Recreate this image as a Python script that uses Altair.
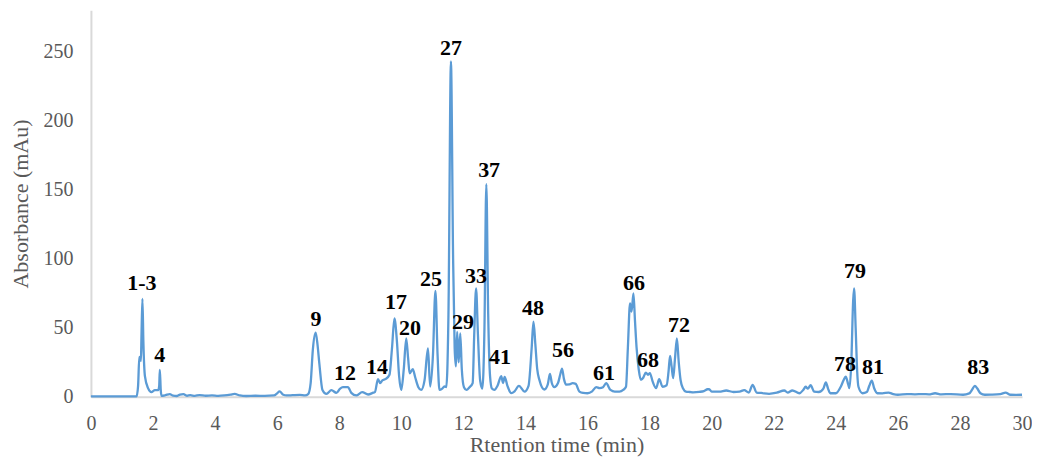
import altair as alt
import pandas as pd

# Chromatogram trace (retention time in min, absorbance in mAu)
time_min = [
    0.0, 0.5, 1.0, 1.47, 1.52, 1.56, 1.61, 1.63, 1.66, 1.69, 1.74, 1.84, 1.95, 2.06, 2.17, 2.2, 2.22, 2.25, 2.27,
    2.4, 2.54, 2.65, 2.76, 2.87, 2.98, 3.1, 3.2, 3.35, 3.5, 3.7, 3.9, 4.1, 4.3, 4.5, 4.63, 4.8, 5.0, 5.3, 5.6,
    5.9, 6.0, 6.08, 6.2, 6.3, 6.5, 6.73, 6.9, 7.0, 7.08, 7.15, 7.24, 7.3, 7.36, 7.46, 7.59, 7.75, 7.91, 8.03,
    8.12, 8.28, 8.39, 8.55, 8.74, 8.93, 9.1, 9.15, 9.25, 9.32, 9.39, 9.5, 9.62, 9.7, 9.78, 9.86, 9.93, 10.0,
    10.08, 10.16, 10.22, 10.27, 10.37, 10.45, 10.55, 10.64, 10.75, 10.86, 10.93, 11.02, 11.1, 11.17, 11.23,
    11.32, 11.39, 11.45, 11.52, 11.6, 11.67, 11.72, 11.76, 11.8, 11.85, 11.9, 11.95, 12.02, 12.1, 12.2, 12.3,
    12.35, 12.41, 12.47, 12.54, 12.61, 12.68, 12.74, 12.8, 12.86, 12.92, 13.0, 13.1, 13.22, 13.28, 13.33,
    13.42, 13.54, 13.65, 13.79, 13.97, 14.1, 14.2, 14.26, 14.32, 14.38, 14.45, 14.61, 14.72, 14.79, 14.85,
    14.93, 15.05, 15.12, 15.18, 15.24, 15.31, 15.42, 15.52, 15.62, 15.74, 15.86, 16.0, 16.15, 16.28, 16.39,
    16.5, 16.6, 16.74, 16.88, 17.03, 17.15, 17.24, 17.3, 17.37, 17.42, 17.48, 17.53, 17.58, 17.65, 17.72,
    17.8, 17.88, 17.95, 18.01, 18.1, 18.21, 18.31, 18.42, 18.55, 18.61, 18.66, 18.71, 18.76, 18.82, 18.88,
    18.94, 19.0, 19.08, 19.17, 19.3, 19.4, 19.6, 19.75, 19.87, 19.92, 20.0, 20.25, 20.47, 20.7, 20.9, 21.05,
    21.2, 21.32, 21.45, 21.6, 21.85, 22.1, 22.34, 22.45, 22.6, 22.83, 22.95, 23.03, 23.1, 23.19, 23.3, 23.45,
    23.6, 23.68, 23.75, 23.82, 24.0, 24.16, 24.25, 24.32, 24.4, 24.44, 24.5, 24.56, 24.59, 24.64, 24.69,
    24.73, 24.86, 25.0, 25.08, 25.16, 25.24, 25.34, 25.5, 25.7, 25.85, 26.0, 26.3, 26.55, 26.8, 27.0, 27.2,
    27.4, 27.7, 28.1, 28.3, 28.4, 28.48, 28.56, 28.66, 28.8, 29.0, 29.3, 29.47, 29.63, 29.8, 30.0,
]
absorbance = [
    0.3, 0.3, 0.3, 0.3, 8, 29, 26, 45, 71, 40, 15, 6.3, 3.4, 4.8, 4.8, 8, 19.5, 5, 0.8,
    1.2, 2.0, 0.8, 0.6, 1.6, 1.9, 0.8, 1.2, 0.7, 1.3, 0.8, 1.0, 0.7, 1.0, 1.6, 2.1, 1.0, 0.6, 0.8, 0.7,
    1.0, 2.5, 3.9, 1.5, 1.0, 1.2, 1.4, 1.0, 2.0, 10, 34, 46.4, 38, 24, 5, 2.1, 4.8, 2.9, 6,
    7, 7, 2.9, 1, 3.4, 1.7, 3, 3.4, 12.8, 9.9, 12, 13, 16, 35, 56.8, 40, 15, 5,
    20, 42.4, 28, 17, 20, 14, 7, 5, 12, 35, 7.5, 30, 76.8, 30, 5,
    6, 7.5, 7, 60, 243, 100, 35, 22, 47, 25, 46, 20, 7, 5, 7, 10,
    45, 78.5, 45, 12, 6, 50, 154, 60, 15, 6, 5, 8, 15, 10, 14.5,
    8, 2.7, 4, 8, 3.8, 8, 35, 54.4, 38, 20, 12.3, 5.3, 9, 16.6, 10,
    7, 10, 16, 20.5, 13, 8.9, 9, 9.9, 9.4, 3.8, 2.8, 2.6, 4, 7, 6.3,
    7, 9.9, 5, 3.8, 3.8, 5, 7.3, 35, 67.7, 61.7, 74.9, 55, 36, 20, 12.3,
    14, 17.6, 16, 17.2, 11, 6.3, 12.8, 7.3, 8.4, 18, 29.6, 22, 13.5, 28, 42.4,
    25, 12, 6, 3.8, 3.5, 3.3, 3.6, 4.2, 5.5, 5.5, 3.8, 3.8, 4.6, 3.5, 3.8, 4.9,
    3.1, 8.7, 3.1, 2.8, 2.2, 3, 4.6, 3.1, 4.6, 2.6, 5, 7.3, 6, 8.4, 3.8, 3.5,
    6, 10.4, 6, 2.6, 2.6, 7.3, 12, 14.7, 9, 6.3, 25, 70, 78.5, 50, 18,
    7.3, 2.6, 3.5, 8, 11.8, 6, 2.6, 2.5, 3.1, 2.0, 1.5, 2.0, 1.8, 2.0, 1.8, 2.6,
    1.8, 2.0, 1.5, 2.5, 5.5, 8, 6, 2.6, 1.5, 1.6, 2.0, 3.1, 1.5, 1.4, 1.5,
]

# Peak labels
peak_labels = ["1-3", "4", "9", "12", "14", "17", "20", "25", "27", "29", "33", "37",
               "41", "48", "56", "61", "66", "68", "72", "78", "79", "81", "83"]
label_time = [1.64, 2.22, 7.25, 8.19, 9.22, 9.83, 10.28, 10.96, 11.60, 11.99, 12.41, 12.83,
              13.18, 14.24, 15.21, 16.53, 17.50, 17.95, 18.95, 24.30, 24.62, 25.20, 28.59]
label_abs = [82.1, 30.3, 56.2, 17.3, 21.6, 68.4, 49.7, 85.0, 252.9, 54.0, 87.7, 164.3,
             28.8, 64.1, 33.9, 17.3, 82.1, 26.6, 51.9, 23.8, 91.4, 21.6, 21.6]

x_ticks = list(range(0, 31, 2))
y_ticks = [0, 50, 100, 150, 200, 250]

trace = pd.DataFrame({"t": time_min, "a": absorbance})
labels = pd.DataFrame({"t": label_time, "a": label_abs, "lab": peak_labels})

x_scale = alt.Scale(domain=[0, 30], nice=False)
y_scale = alt.Scale(domain=[0, 280], nice=False)

line = alt.Chart(trace).mark_line(
    color="#5b9bd5", strokeWidth=2.3, interpolate="monotone"
).encode(
    x=alt.X("t:Q", scale=x_scale,
            axis=alt.Axis(title="Rtention time (min)", values=x_ticks, ticks=False,
                          labelFlush=False, labelPadding=17, titlePadding=1, grid=False)),
    y=alt.Y("a:Q", scale=y_scale,
            axis=alt.Axis(title="Absorbance (mAu)", values=y_ticks, ticks=False,
                          labelFlush=False, labelPadding=18, titlePadding=10, grid=False)),
)

text = alt.Chart(labels).mark_text(
    font="Liberation Serif", fontWeight="bold", fontSize=22, color="#000000",
    align="center", baseline="middle"
).encode(
    x=alt.X("t:Q", scale=x_scale),
    y=alt.Y("a:Q", scale=y_scale),
    text="lab:N",
)

chart = alt.layer(line, text).properties(
    width=932, height=387,
    autosize=alt.AutoSizeParams(type="none"),
    padding={"left": 83, "top": 2, "right": 10, "bottom": 61},
).configure_axis(
    labelFont="Liberation Serif", labelFontSize=20, labelColor="#595959",
    titleFont="Liberation Serif", titleFontSize=22, titleColor="#595959",
    titleFontWeight="normal",
    domainColor="#d9d9d9", domainWidth=2,
).configure_view(stroke=None)

chart.save("out.html", embed_options={"renderer": "svg", "actions": False})
